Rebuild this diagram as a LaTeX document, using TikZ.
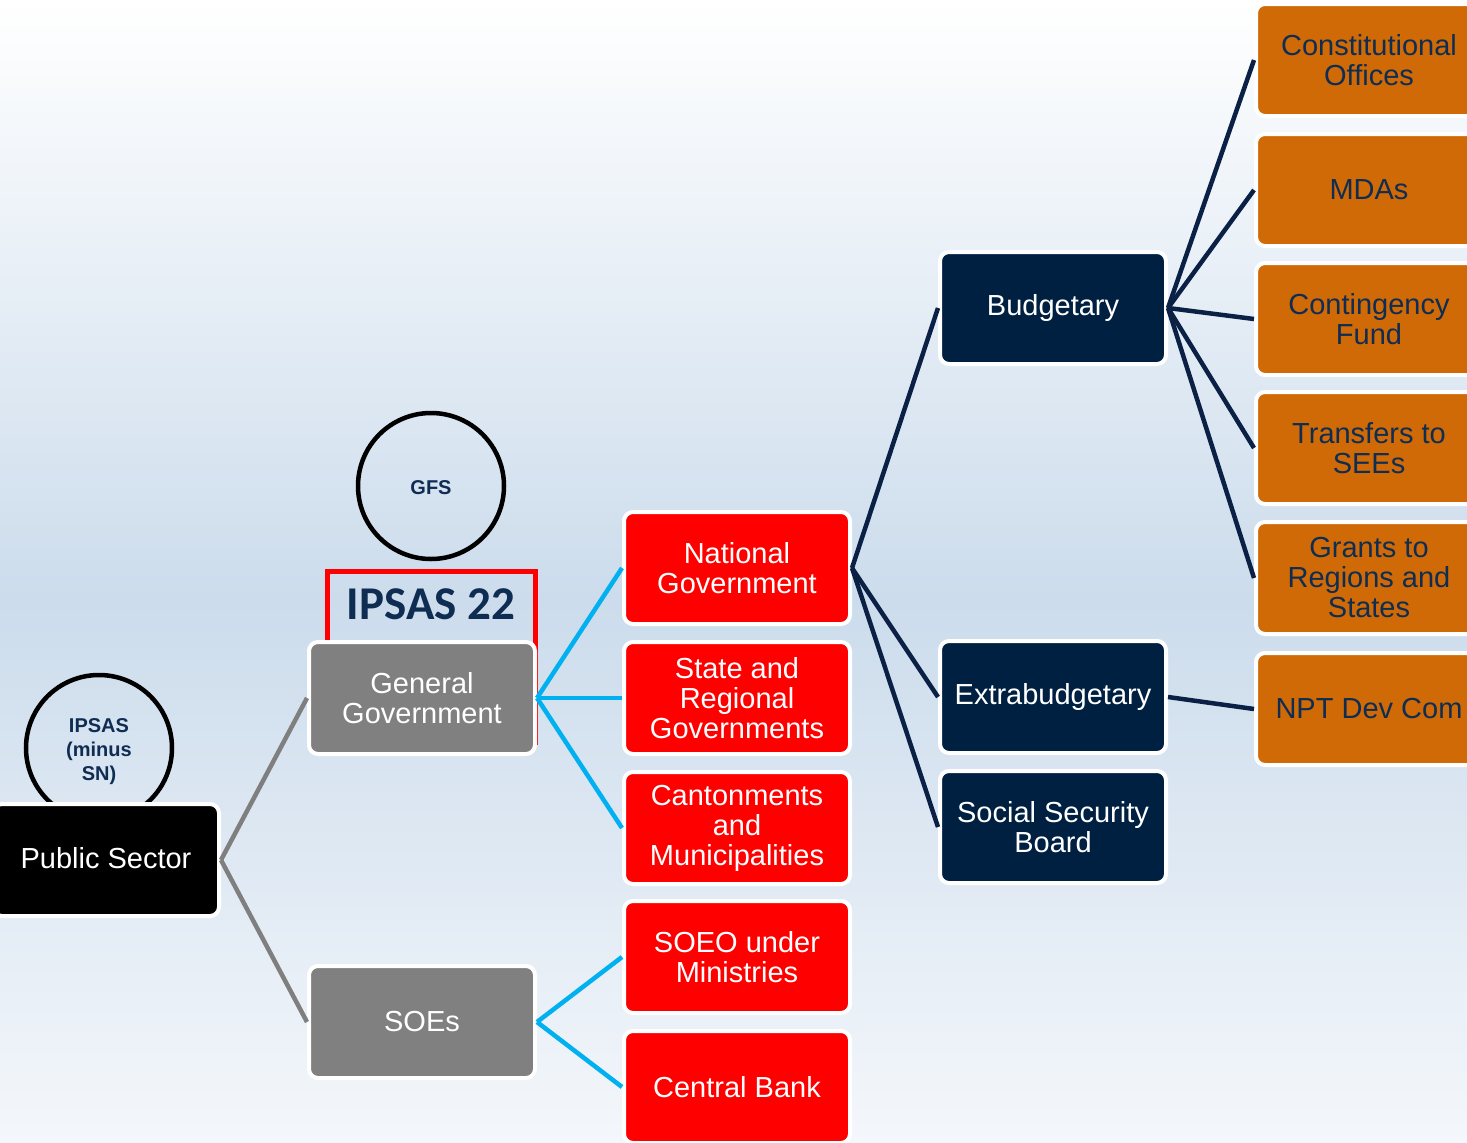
\documentclass[tikz,border=0pt]{standalone}
\usepackage{fontspec}
\setmainfont{Liberation Sans}
\newfontfamily\ipsfont{Carlito}
\definecolor{navybox}{HTML}{002041}
\definecolor{navyline}{HTML}{0A2145}
\definecolor{navytext}{HTML}{0F2D52}
\definecolor{orangebox}{HTML}{D06A06}
\definecolor{redbox}{HTML}{FF0000}
\definecolor{greybox}{HTML}{808080}
\definecolor{greyline}{HTML}{7F7F7F}
\definecolor{cyanline}{HTML}{00B0F0}
\definecolor{bgmid}{HTML}{CCDCEC}
\definecolor{bgbot}{HTML}{F4F7FB}
\newcommand{\shiftdown}[2]{\raisebox{-#1}[\height][\depth]{#2}}
\begin{document}
\begin{tikzpicture}[x=1pt,y=-1pt,
  box/.style={draw=white, line width=4pt, rounded corners=9pt, minimum width=226pt,
    minimum height=112pt, inner sep=0pt, align=center,
    font=\fontsize{29}{30}\selectfont, text=white},
  blackbox/.style={box, fill=black},
  graybox/.style={box, fill=greybox},
  rbox/.style={box, fill=redbox},
  nbox/.style={box, fill=navybox},
  obox/.style={box, fill=orangebox, text=navytext},
  circ/.style={circle, draw=black, line width=4.5pt, minimum size=146pt, inner sep=0pt,
    align=center, font=\bfseries\fontsize{20}{24}\selectfont, text=navytext},
  redframe/.style={draw=red, line width=5pt, minimum width=208pt, minimum height=171pt, inner sep=0pt},
  ipslabel/.style={font=\ipsfont\bfseries\fontsize{47}{47}\selectfont, text=navytext, inner sep=0pt},
  greyconn/.style={draw=greyline, line width=4.5pt},
  cyanconn/.style={draw=cyanline, line width=4.5pt},
  navyconn/.style={draw=navyline, line width=4.5pt}
]
\useasboundingbox (0,0) rectangle (1467,1143);
\fill[top color=white, bottom color=bgmid] (0,0) rectangle (1467,600);
\fill[top color=bgmid, bottom color=bgbot] (0,600) rectangle (1467,1143);

% circles and frame (behind boxes)
\node[circ] (ipsascirc) at (99,748) {\shiftdown{4pt}{\begin{tabular}{@{}c@{}}IPSAS\\(minus\\SN)\end{tabular}}};
\node[circ] (gfs) at (431,486) {\shiftdown{2pt}{GFS}};
\node[redframe, anchor=north] (ipsasframe) at (431,569) {};
\node[ipslabel] (ipsas22) at (431,604) {IPSAS 22};

% boxes
\node[blackbox] (ps) at (106,860) {\shiftdown{-2pt}{Public Sector}};
\node[graybox] (gg) at (422,698) {General\\Government};
\node[graybox] (soe) at (422,1022) {SOEs};
\node[rbox] (ng) at (737,568) {National\\Government};
\node[rbox] (srg) at (737,698) {State and\\Regional\\Governments};
\node[rbox] (cant) at (737,828) {Cantonments\\and\\Municipalities};
\node[rbox] (soeo) at (737,957) {SOEO under\\Ministries};
\node[rbox] (cb) at (737,1087) {Central Bank};
\node[nbox] (bud) at (1053,308) {Budgetary};
\node[nbox] (extra) at (1053,697) {Extrabudgetary};
\node[nbox] (ssb) at (1053,827) {Social Security\\Board};
\node[obox] (co) at (1369,60) {Constitutional\\Offices};
\node[obox] (mda) at (1369,190) {MDAs};
\node[obox] (cf) at (1369,319) {Contingency\\Fund};
\node[obox] (tr) at (1369,448) {Transfers to\\SEEs};
\node[obox] (gr) at (1369,578) {Grants to\\Regions and\\States};
\node[obox] (npt) at (1369,709) {NPT Dev Com};

% connectors
\draw[greyconn] (ps.east) -- (gg.west);
\draw[greyconn] (ps.east) -- (soe.west);
\draw[cyanconn] (gg.east) -- (ng.west);
\draw[cyanconn] (gg.east) -- (srg.west);
\draw[cyanconn] (gg.east) -- (cant.west);
\draw[cyanconn] (soe.east) -- (soeo.west);
\draw[cyanconn] (soe.east) -- (cb.west);
\draw[navyconn] (ng.east) -- (bud.west);
\draw[navyconn] (ng.east) -- (extra.west);
\draw[navyconn] (ng.east) -- (ssb.west);
\draw[navyconn] (bud.east) -- (co.west);
\draw[navyconn] (bud.east) -- (mda.west);
\draw[navyconn] (bud.east) -- (cf.west);
\draw[navyconn] (bud.east) -- (tr.west);
\draw[navyconn] (bud.east) -- (gr.west);
\draw[navyconn] (extra.east) -- (npt.west);
\end{tikzpicture}
\end{document}
